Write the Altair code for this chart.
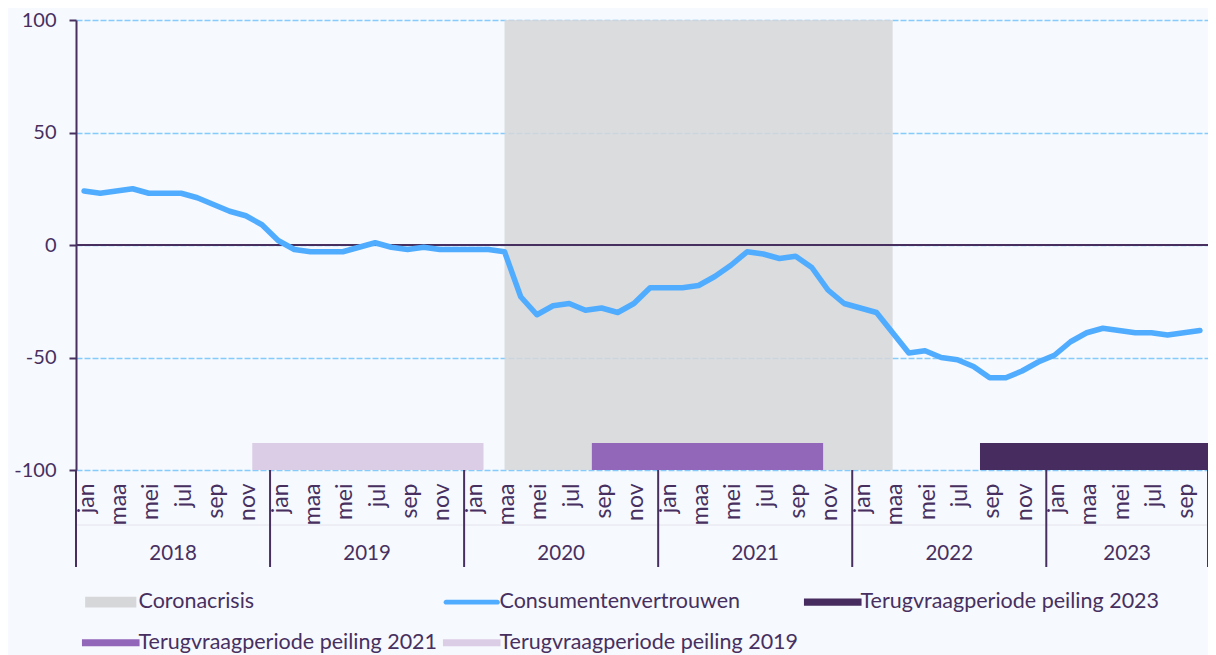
import altair as alt
import pandas as pd

# ---------------- data ----------------
month_names = ["jan", "feb", "maa", "apr", "mei", "jun", "jul", "aug", "sep", "okt", "nov", "dec"]
years = ["2018", "2019", "2020", "2021", "2022", "2023"]
year_bounds = [0, 12, 24, 36, 48, 60, 70]
year_mid = [6, 18, 30, 42, 54, 65]

# Consumentenvertrouwen, monthly jan 2018 .. okt 2023
consument = [
    24, 23, 24, 25, 23, 23, 23, 21, 18, 15, 13, 9,
    2, -2, -3, -3, -3, -1, 1, -1, -2, -1, -2, -2,
    -2, -2, -3, -23, -31, -27, -26, -29, -28, -30, -26, -19,
    -19, -19, -18, -14, -9, -3, -4, -6, -5, -10, -20, -26,
    -28, -30, -39, -48, -47, -50, -51, -54, -59, -59, -56, -52,
    -49, -43, -39, -37, -38, -39, -39, -40, -39, -38,
]
n_months = len(consument)

corona_name = "Coronacrisis"
line_name = "Consumentenvertrouwen"
corona_start = [26.5]
corona_end = [50.5]
corona_low = [-100]
corona_high = [100]

peiling_names = [
    "Terugvraagperiode peiling 2019",
    "Terugvraagperiode peiling 2021",
    "Terugvraagperiode peiling 2023",
]
peiling_start = [10.9, 31.9, 55.9]
peiling_end = [25.2, 46.2, 70.0]
peiling_low = [-100, -100, -100]
peiling_high = [-88, -88, -88]

legend_order = [corona_name, line_name, peiling_names[2], peiling_names[1], peiling_names[0]]

# ---------------- styles ----------------
TEXT = "#47305f"
BLUE = "#50acff"
GREY = "#d6d7d8"
P19 = "#dccde6"
P21 = "#9266b8"
P23 = "#472c5f"
BG = "#f6f9fe"
FONT = "Lato"

legend_colors = [GREY, BLUE, P23, P21, P19]
legend_shapes = [
    "M-3.2,-0.67H3.2V0.67H-3.2Z",
    "M-3.2,-0.31H3.2A0.31,0.31,0,0,1,3.2,0.31H-3.2A0.31,0.31,0,0,1,-3.2,-0.31Z",
    "M-3.6,-0.44H3.6V0.44H-3.6Z",
    "M-3.6,-0.44H3.6V0.44H-3.6Z",
    "M-3.6,-0.44H3.6V0.44H-3.6Z",
]

W, H = 1132, 450

line_df = pd.DataFrame({"m": [i + 0.5 for i in range(n_months)], "v": consument})
corona_df = pd.DataFrame({"x": corona_start, "x2": corona_end, "y": corona_low, "y2": corona_high})
peiling_df = pd.DataFrame({"x": peiling_start, "x2": peiling_end, "y": peiling_low, "y2": peiling_high,
                           "name": peiling_names})
year_df = pd.DataFrame({"mid": year_mid, "year": years})
bounds_df = pd.DataFrame({"b": year_bounds})
legend_df = pd.DataFrame({"name": legend_order, "x": [-50] * 5, "y": [0] * 5})

xscale = alt.Scale(domain=[0, n_months], nice=False, zero=False)
yscale = alt.Scale(domain=[-100, 100], nice=False)

month_expr = "[" + ",".join("'%s'" % m for m in month_names) + "][floor(datum.value) % 12]"

x_axis = alt.Axis(
    values=[i + 0.5 for i in range(0, n_months, 2)],
    tickCount=200,
    labelExpr=month_expr,
    labelAngle=270,
    labelAlign="right",
    labelBaseline="middle",
    labelPadding=13,
    labelFontSize=23,
    labelFont=FONT,
    labelColor=TEXT,
    labelOverlap=False,
    labelFlush=False,
    labelBound=False,
    labelOffset=2,
    domain=False,
    ticks=False,
    tickSize=0,
    grid=False,
    title=None,
)

y_axis = alt.Axis(
    values=[-100, -50, 0, 50, 100],
    labelExpr="'' + datum.value",
    labelFontSize=20,
    labelFont=FONT,
    labelColor=TEXT,
    labelPadding=13,
    labelOverlap=False,
    domainColor=TEXT,
    domainWidth=2,
    tickColor=TEXT,
    tickWidth=2,
    tickSize=7,
    grid=True,
    gridColor="#87cbfa",
    gridDash=[6, 2],
    gridWidth=1.3,
    title=None,
)

corona = alt.Chart(corona_df).mark_rect(color=GREY, opacity=0.85).encode(
    x=alt.X("x:Q", scale=xscale, axis=x_axis),
    x2="x2:Q",
    y=alt.Y("y:Q", scale=yscale, axis=y_axis),
    y2="y2:Q",
)

peiling = alt.Chart(peiling_df).mark_rect().encode(
    x=alt.X("x:Q", scale=xscale),
    x2="x2:Q",
    y=alt.Y("y:Q", scale=yscale),
    y2="y2:Q",
    fill=alt.Fill("name:N", scale=alt.Scale(domain=peiling_names, range=[P19, P21, P23]), legend=None),
)

zero = alt.Chart(pd.DataFrame({"z": [0]})).mark_rule(color=TEXT, strokeWidth=2).encode(
    y=alt.Y("z:Q", scale=yscale),
)

line = alt.Chart(line_df).mark_line(color=BLUE, strokeWidth=5.5, strokeCap="round", strokeJoin="round").encode(
    x=alt.X("m:Q", scale=xscale),
    y=alt.Y("v:Q", scale=yscale),
)

legend_layer = alt.Chart(legend_df).mark_point(filled=True, clip=True, size=256, opacity=1).encode(
    x=alt.X("x:Q", scale=xscale),
    y=alt.Y("y:Q", scale=yscale),
    color=alt.Color(
        "name:N",
        scale=alt.Scale(domain=legend_order, range=legend_colors),
        legend=alt.Legend(
            title=None,
            orient="none",
            direction="horizontal",
            legendX=24,
            legendY=571,
            columns=3,
            columnPadding=4,
            rowPadding=18,
            padding=0,
            symbolSize=256,
            symbolStrokeWidth=0,
            symbolOpacity=1,
            labelOffset=17,
            labelFontSize=21.5,
            labelFont=FONT,
            labelColor=TEXT,
            labelLimit=0,
        ),
    ),
    shape=alt.Shape("name:N", scale=alt.Scale(domain=legend_order, range=legend_shapes)),
)

seps = alt.Chart(bounds_df).mark_rule(color=TEXT, strokeWidth=2).encode(
    x=alt.X("b:Q", scale=xscale),
    y=alt.value(H),
    y2=alt.value(H + 97),
)

faint = alt.Chart(pd.DataFrame({"a": [0], "b": [n_months]})).mark_rule(color="#e4e4ec", strokeWidth=1).encode(
    x=alt.X("a:Q", scale=xscale),
    x2="b:Q",
    y=alt.value(H + 55),
)

year_text = alt.Chart(year_df).mark_text(
    font=FONT, fontSize=20.5, color=TEXT, baseline="middle", align="center"
).encode(
    x=alt.X("mid:Q", scale=xscale),
    y=alt.value(H + 84),
    text="year:N",
)

chart = alt.layer(
    corona, peiling, zero, line, legend_layer, faint, seps, year_text
).properties(
    width=W,
    height=H,
    background=BG,
    padding={"left": 68, "top": 12, "right": 0, "bottom": 185},
    autosize=alt.AutoSizeParams(type="none"),
).configure_view(
    stroke=None
).configure_axisX(
    labelOverlap=False,
    labelFont=FONT,
).configure_text(
    font=FONT
)

chart.save("out.html", embed_options={"renderer": "svg", "actions": False})
